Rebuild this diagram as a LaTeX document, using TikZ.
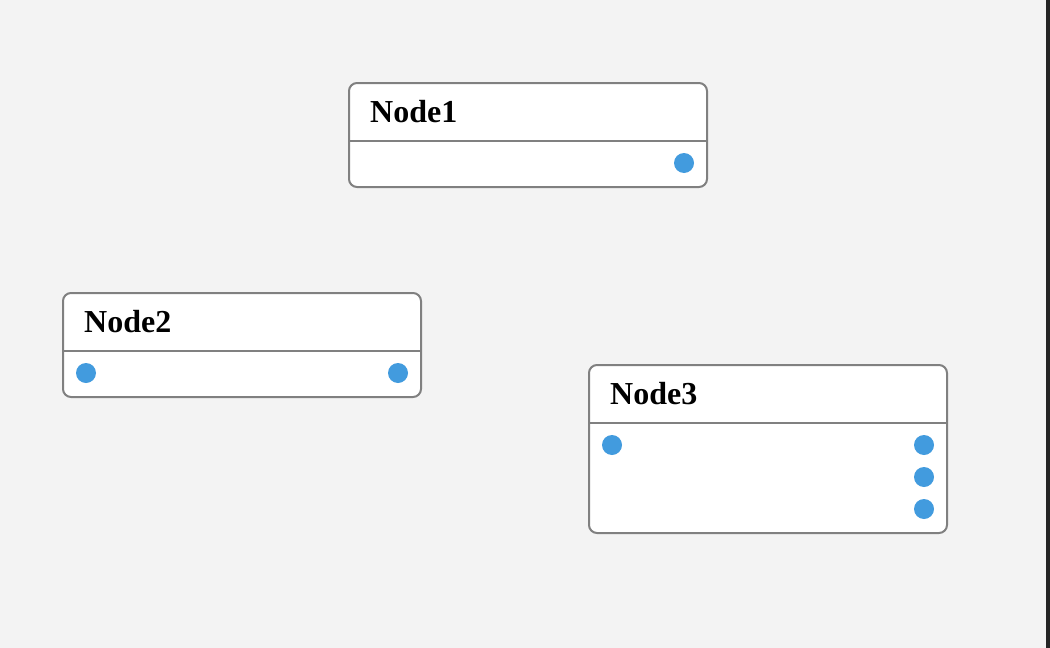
\documentclass[tikz,border=0pt]{standalone}
\usepackage{fontspec}
\setmainfont{Liberation Serif}
\definecolor{bg}{RGB}{243,243,243}
\definecolor{edge}{RGB}{128,128,128}
\definecolor{port}{RGB}{66,155,222}
\definecolor{strip}{RGB}{36,36,36}
\tikzset{
  card/.style={draw=edge, line width=2pt, fill=white, rounded corners=8pt},
  divider/.style={draw=edge, line width=2pt},
  portdot/.style={circle, fill=port, inner sep=0pt, minimum size=20pt},
  title/.style={anchor=base west, inner sep=0pt, font=\fontsize{32}{32}\selectfont\bfseries}
}
\begin{document}
\begin{tikzpicture}[x=1pt,y=-1pt]
\fill[bg] (0,0) rectangle (1050,648);
\useasboundingbox (0,0) rectangle (1050,648);
\fill[strip] (1046,0) rectangle (1050,648);
% Node1
\draw[card] (349,83) rectangle (707,187);
\draw[divider] (349,141) -- (707,141);
\node[title] (n1) at (370,122) {Node1};
\node[portdot] (n1o) at (684,163) {};
% Node2
\draw[card] (63,293) rectangle (421,397);
\draw[divider] (63,351) -- (421,351);
\node[title] (n2) at (84,332) {Node2};
\node[portdot] (n2i) at (86,373) {};
\node[portdot] (n2o) at (398,373) {};
% Node3
\draw[card] (589,365) rectangle (947,533);
\draw[divider] (589,423) -- (947,423);
\node[title] (n3) at (610,404) {Node3};
\node[portdot] (n3i) at (612,445) {};
\node[portdot] (n3o1) at (924,445) {};
\node[portdot] (n3o2) at (924,477) {};
\node[portdot] (n3o3) at (924,509) {};
\end{tikzpicture}
\end{document}
